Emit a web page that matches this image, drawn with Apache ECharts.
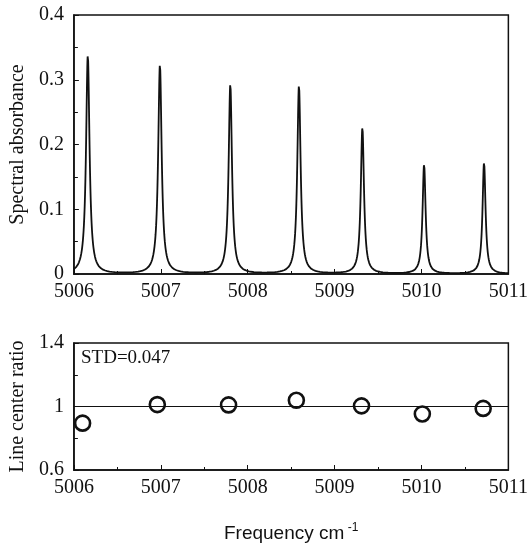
<!DOCTYPE html>
<html>
<head>
<meta charset="utf-8">
<script src="https://cdn.jsdelivr.net/npm/echarts@6/dist/echarts.min.js"></script>
<style>
  html, body { margin: 0; padding: 0; background: #fff; }
  #chart { width: 531px; height: 547px; }
</style>
</head>
<body>
<div id="chart"></div>
<script>
// peak parameters (centre cm-1, height, half width cm-1)
var peakCenters = [5006.16, 5006.99, 5007.80, 5008.59, 5009.32, 5010.03, 5010.72];
var peakHeights = [0.338, 0.323, 0.293, 0.291, 0.226, 0.169, 0.172];
var peakHalfWidths = [0.024, 0.024, 0.023, 0.023, 0.022, 0.021, 0.021];

// lower panel: line centre ratio of each line
var ratioFreq = [5006.10, 5006.96, 5007.78, 5008.56, 5009.31, 5010.01, 5010.71];
var ratioValues = [0.895, 1.012, 1.010, 1.039, 1.004, 0.953, 0.988];
var refLevel = 1;
var stdText = 'STD=0.047';

var xTicks = [5006, 5007, 5008, 5009, 5010, 5011];

// spectrum = sum of lorentzian lines built from the peak table
var spectrum = [];
for (var i = 0; i <= 2500; i++) {
    var x = 5006 + i * 0.002;
    var y = 0;
    for (var k = 0; k < peakCenters.length; k++) {
        var d = (x - peakCenters[k]) / peakHalfWidths[k];
        y += peakHeights[k] / (1 + d * d);
    }
    spectrum.push([x, y]);
}
var ratioData = ratioFreq.map(function (f, i) { return [f, ratioValues[i]]; });

var serif = 'Liberation Serif';
var black = '#111';

function xAxisCfg(gridIndex, extra) {
    var cfg = {
        type: 'value', gridIndex: gridIndex,
        min: xTicks[0], max: xTicks[xTicks.length - 1], interval: 1,
        axisLine: { show: true, onZero: false, lineStyle: { color: black, width: 1.5 } },
        axisTick: { show: true, inside: true, length: 5, lineStyle: { color: black } },
        minorTick: { show: true, splitNumber: 2, length: 3, lineStyle: { color: black } },
        splitLine: { show: false },
        axisLabel: {
            color: black, fontFamily: serif, fontSize: 20, margin: 8,
            formatter: function (v) { return String(v); }
        }
    };
    return Object.assign(cfg, extra || {});
}

var option = {
    animation: false,
    backgroundColor: '#fff',
    grid: [
        { left: 71, right: 17, top: 15, height: 259, show: true, borderColor: black, borderWidth: 1.5 },
        { left: 70, right: 19, top: 343, height: 130, show: true, borderColor: black, borderWidth: 1.5 }
    ],
    xAxis: [
        xAxisCfg(0),
        xAxisCfg(1, {
            name: '{t|Frequency cm}{s| -1}',
            nameLocation: 'middle',
            nameGap: 52,
            nameTextStyle: {
                rich: {
                    t: { fontFamily: 'Liberation Sans', fontSize: 19, color: black, lineHeight: 24 },
                    s: { fontFamily: 'Liberation Sans', fontSize: 12, color: black, lineHeight: 24, padding: [0, 0, 12, 0] }
                }
            }
        })
    ],
    yAxis: [
        {
            type: 'value', gridIndex: 0, min: 0, max: 0.4, interval: 0.1,
            name: 'Spectral absorbance', nameLocation: 'middle', nameGap: 38,
            nameTextStyle: { fontFamily: serif, fontSize: 20, color: black },
            axisLine: { show: true, lineStyle: { color: black, width: 1.5 } },
            axisTick: { show: true, inside: true, length: 5, lineStyle: { color: black } },
            minorTick: { show: true, splitNumber: 2, length: 4, lineStyle: { color: black } },
            splitLine: { show: false },
            axisLabel: {
                color: black, fontFamily: serif, fontSize: 20, margin: 10,
                formatter: function (v) { return v === 0 ? '0' : v.toFixed(1); }
            }
        },
        {
            type: 'value', gridIndex: 1, min: 0.6, max: 1.4, interval: 0.4,
            name: 'Line center ratio', nameLocation: 'middle', nameGap: 40,
            nameTextStyle: { fontFamily: serif, fontSize: 20, color: black },
            axisLine: { show: true, lineStyle: { color: black, width: 1.5 } },
            axisTick: { show: true, inside: true, length: 5, lineStyle: { color: black } },
            minorTick: { show: true, splitNumber: 2, length: 4, lineStyle: { color: black } },
            splitLine: { show: false },
            axisLabel: {
                color: black, fontFamily: serif, fontSize: 20, margin: 10,
                formatter: function (v) { return Math.abs(v - 1) < 1e-9 ? '1' : v.toFixed(1); }
            }
        }
    ],
    series: [
        {
            type: 'line', xAxisIndex: 0, yAxisIndex: 0,
            data: spectrum, showSymbol: false, sampling: 'none',
            lineStyle: { color: black, width: 1.8 }
        },
        {
            type: 'scatter', xAxisIndex: 1, yAxisIndex: 1, z: 3,
            data: ratioData, symbol: 'circle', symbolSize: 15,
            itemStyle: { color: '#fff', borderColor: black, borderWidth: 2.6, opacity: 1 },
            markLine: {
                silent: true, symbol: 'none',
                label: { show: false },
                lineStyle: { color: black, width: 1, type: 'solid' },
                data: [{ yAxis: refLevel }]
            }
        }
    ],
    graphic: [
        {
            type: 'text', left: 81, top: 349,
            style: { text: stdText, fontFamily: serif, fontSize: 19, fill: black }
        }
    ]
};

var chart = echarts.init(document.getElementById('chart'));
chart.setOption(option);
</script>
</body>
</html>
